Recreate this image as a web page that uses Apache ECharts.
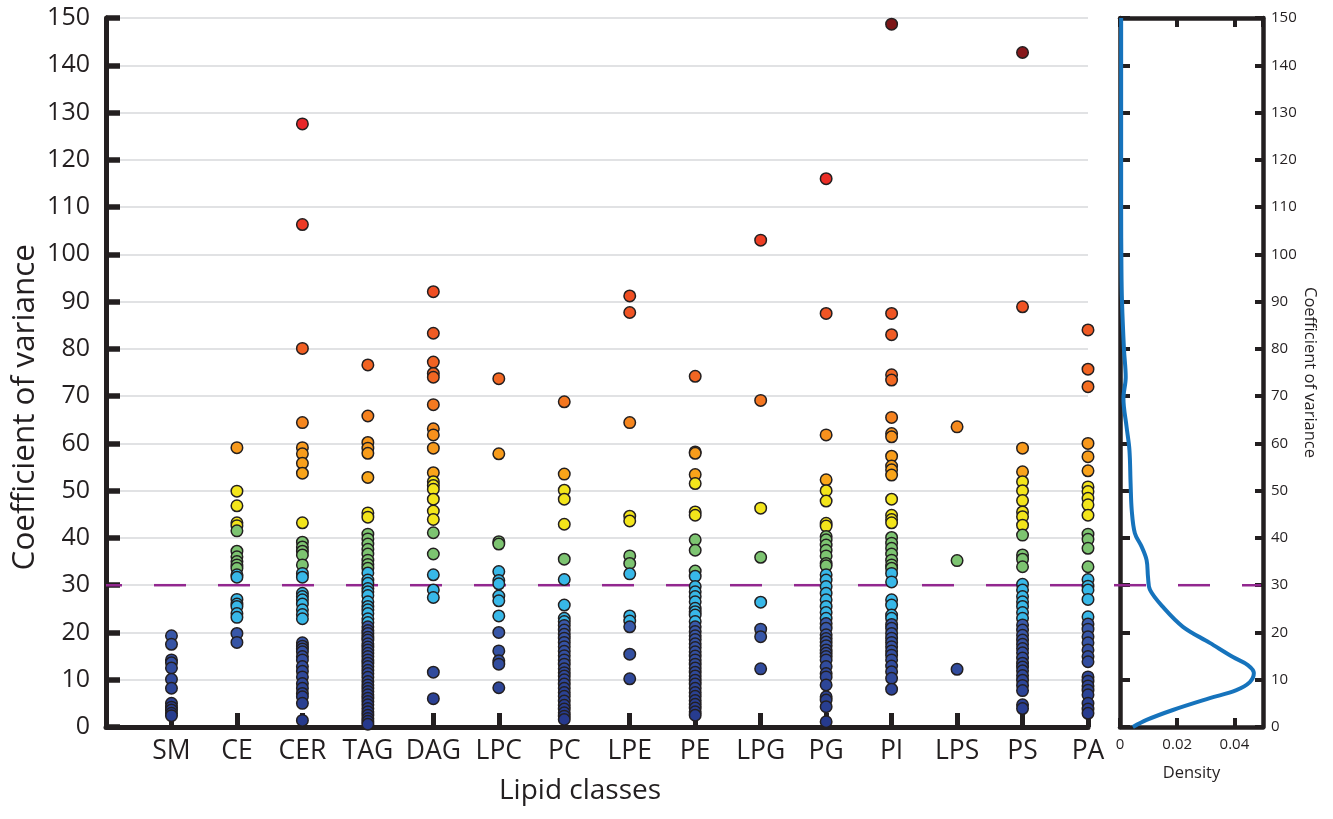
<!DOCTYPE html>
<html>
<head>
<meta charset="utf-8">
<script src="https://cdn.jsdelivr.net/npm/echarts@6/dist/echarts.min.js"></script>
<style>
  html, body { margin: 0; padding: 0; background: #fff; }
  #chart { width: 1333px; height: 819px; }
</style>
</head>
<body>
<div id="chart"></div>
<script>
// Lipid classes along the x axis
const categories = ['SM', 'CE', 'CER', 'TAG', 'DAG', 'LPC', 'PC', 'LPE', 'PE', 'LPG', 'PG', 'PI', 'LPS', 'PS', 'PA'];

// Coefficient of variance (%) of each lipid species, per class
const SM  = [19.3, 17.5, 14.2, 13.6, 12.5, 10.1, 8.2, 5.0, 4.2, 3.6, 2.9, 2.4];
const CE  = [59.1, 49.9, 46.8, 43.2, 42.6, 41.5, 37.2, 36.0, 35.0, 34.3, 33.6, 32.2, 31.7, 27.0, 26.0, 25.5, 24.0, 23.2, 19.8, 17.9];
const CER = [127.6, 106.3, 80.1, 64.4, 59.1, 57.8, 55.8, 53.7, 43.2, 39.1, 38.1, 37.2, 36.4, 34.3, 32.5, 31.7, 28.3, 27.6, 26.9, 26.0, 24.8, 23.8, 22.9,
             17.8, 17.1, 16.5, 15.9, 14.9, 14.2, 12.8, 11.8, 10.6, 9.2, 8.2, 7.1, 6.4, 5.0, 1.4];
const TAG = [76.6, 65.8, 60.2, 59.0, 57.9, 52.8, 45.3, 44.4, 40.8, 39.8, 38.7, 37.6, 36.6, 35.3, 34.4, 33.6, 32.6, 31.1, 30.4, 29.3, 28.6, 27.8, 26.5,
             25.5, 24.8, 24.0, 22.9, 22.1, 21.2, 20.4, 19.8, 19.0, 18.4, 17.6, 16.9, 16.3, 15.6, 14.9, 14.2, 13.5, 12.8, 12.0, 11.3, 10.5, 9.6, 8.9,
             8.2, 7.5, 6.8, 6.1, 5.4, 4.7, 3.9, 3.2, 2.5, 1.8, 1.2, 0.6];
const DAG = [92.1, 83.3, 77.2, 74.8, 74.0, 68.2, 63.1, 61.8, 59.0, 53.8, 51.9, 51.1, 50.3, 48.2, 45.7, 43.9, 41.1, 36.6, 32.2, 29.0, 27.4, 11.6, 6.0];
const LPC = [73.7, 57.8, 39.2, 38.7, 32.9, 31.0, 30.3, 27.7, 26.7, 23.5, 20.0, 16.1, 14.0, 13.3, 8.3];
const PC  = [68.8, 53.5, 50.1, 48.2, 42.9, 35.5, 31.2, 25.8, 23.0, 22.3, 21.5, 20.5, 19.6, 18.8, 17.9, 17.0, 16.0, 15.1, 14.2, 13.3, 12.3, 11.5,
             10.8, 10.0, 9.1, 8.2, 7.3, 6.5, 5.5, 4.6, 3.8, 3.0, 2.3, 1.6];
const LPE = [91.2, 87.7, 64.4, 44.6, 43.6, 36.2, 34.6, 32.4, 23.5, 22.4, 21.2, 15.4, 10.2];
const PE  = [74.2, 58.2, 57.9, 53.4, 51.5, 45.5, 44.8, 39.6, 37.4, 33.0, 31.9, 29.7, 28.6, 27.6, 26.5, 25.1, 24.4, 23.7, 22.3, 21.2, 20.2, 19.3,
             18.5, 17.6, 16.8, 15.9, 15.0, 14.2, 13.3, 12.5, 11.6, 10.8, 9.9, 9.1, 8.2, 7.3, 6.5, 5.6, 4.8, 4.0, 3.2, 2.5];
const LPG = [103.0, 69.1, 46.3, 35.9, 26.4, 20.7, 19.1, 12.3];
const PG  = [116.0, 87.5, 61.8, 52.3, 50.0, 47.8, 43.1, 42.5, 40.3, 39.6, 38.5, 37.4, 36.2, 34.6, 34.1, 32.2, 31.1, 29.7, 28.3, 26.9, 25.5, 24.2,
             23.0, 21.9, 20.9, 19.5, 18.7, 18.0, 17.2, 16.3, 15.6, 14.9, 14.2, 12.8, 11.3, 10.6, 8.9, 6.4, 5.7, 4.3, 1.1];
const PI  = [148.7, 87.5, 83.0, 74.5, 73.4, 65.5, 62.1, 61.4, 57.3, 55.2, 54.4, 53.3, 48.2, 44.8, 43.9, 43.2, 40.1, 38.9, 37.8, 36.6, 35.3, 34.3,
             33.6, 32.5, 30.7, 26.9, 25.8, 23.7, 23.0, 21.7, 20.9, 19.8, 18.8, 17.9, 17.0, 16.1, 15.2, 14.2, 12.9, 11.7, 10.3, 8.0];
const LPS = [63.5, 35.2, 12.2];
const PS  = [142.7, 88.9, 59.0, 54.0, 51.9, 50.0, 47.9, 45.5, 44.5, 42.7, 40.6, 36.4, 35.5, 33.9, 30.2, 29.0, 27.6, 26.5, 25.5, 24.2, 23.0, 21.6,
             20.5, 19.4, 18.4, 17.5, 16.6, 15.7, 14.6, 13.5, 12.7, 11.9, 10.9, 9.9, 8.8, 7.7, 4.7, 3.9];
const PA  = [84.0, 75.7, 72.0, 60.0, 57.2, 54.2, 50.8, 49.8, 48.4, 47.0, 44.8, 40.8, 39.7, 37.8, 33.9, 31.2, 29.8, 29.0, 27.0, 23.3, 21.8, 20.7,
             19.1, 17.8, 16.3, 14.9, 13.8, 10.6, 9.7, 8.7, 7.8, 6.8, 5.0, 3.8, 2.9];

const classValues = [SM, CE, CER, TAG, DAG, LPC, PC, LPE, PE, LPG, PG, PI, LPS, PS, PA];

// Kernel density of all CV values (density, CV)
const densityCv  = [0, 1.5, 3.6, 6.1, 7.8, 9.5, 11.4, 13.1, 14.8, 17.8, 21.2, 25.4, 29.0, 31.7, 35.3, 38.1, 41.0, 45.9, 51.6, 58.6, 63.5, 69.5, 74.0, 79.8, 90.0, 97.0, 110, 130, 150];
const densityVal = [0.0045, 0.0093, 0.0185, 0.0314, 0.0407, 0.0454, 0.0468, 0.0447, 0.0395, 0.0314, 0.022, 0.015, 0.0105, 0.0098, 0.0093, 0.0076,
                    0.0052, 0.0041, 0.0037, 0.0033, 0.0023, 0.0012, 0.0020, 0.0014, 0.0007, 0.0005, 0.0004, 0.0004, 0.0004];

// Axis ticks
const cvTicks = { min: 0, max: 150, interval: 10 };
const densityTicks = { min: 0, max: 0.05, interval: 0.02 };
const cvThreshold = 30;

// Colour scale by CV value
function hexToRgb(h) { return [parseInt(h.slice(1, 3), 16), parseInt(h.slice(3, 5), 16), parseInt(h.slice(5, 7), 16)]; }
function mix(a, b, t) {
  const ca = hexToRgb(a), cb = hexToRgb(b);
  return 'rgb(' + ca.map((c, i) => Math.round(c + (cb[i] - c) * t)).join(',') + ')';
}
function ramp(stops, v) {
  if (v <= stops[0][0]) return stops[0][1];
  for (let i = 1; i < stops.length; i++) {
    if (v <= stops[i][0]) {
      const t = (v - stops[i - 1][0]) / (stops[i][0] - stops[i - 1][0]);
      return mix(stops[i - 1][1], stops[i][1], t);
    }
  }
  return stops[stops.length - 1][1];
}
const warmStops = [[52, '#F9A71A'], [60, '#F8981C'], [66, '#F5801F'], [74, '#F26622'], [84, '#F05A24'], [92, '#EF4E23'],
                   [103, '#EE3E24'], [116, '#EC2E26'], [128, '#E8262A'], [140, '#8C1A1D'], [150, '#7A1416']];
function cvColor(v) {
  if (v < 22) return ramp([[0, '#25388B'], [22, '#3A5AAB']], v);
  if (v < 33) return '#38B8E8';
  if (v < 42) return '#7DC471';
  if (v < 52) return '#F3E51B';
  return ramp(warmStops, v);
}

const scatterData = [];
classValues.forEach((vals, i) => vals.forEach(v => scatterData.push([i + 1, v])));
const densityData = densityCv.map((cv, i) => [densityVal[i], cv]);

const ink = '#231F20';
const font = 'Open Sans';

const chart = echarts.init(document.getElementById('chart'), null, { renderer: 'canvas' });
chart.setOption({
  animation: false,
  backgroundColor: '#ffffff',
  textStyle: { fontFamily: font, color: ink },
  grid: [
    { left: 106, right: 245, top: 18, bottom: 92, outerBoundsMode: 'none' },
    { left: 1120, right: 70, top: 18, bottom: 92, outerBoundsMode: 'none' },
    { left: 106, right: 72, top: 18, bottom: 92, outerBoundsMode: 'none' }
  ],
  xAxis: [
    {
      gridIndex: 0, type: 'value', min: 0, max: categories.length, interval: 1,
      axisLine: { show: true, onZero: false, lineStyle: { color: ink, width: 5 } },
      axisTick: { show: true, inside: true, length: 14, lineStyle: { color: ink, width: 5 } },
      axisLabel: { fontSize: 26.5, color: ink, fontFamily: font, margin: 11,
                   formatter: v => categories[v - 1] || '' },
      splitLine: { show: false }
    },
    {
      gridIndex: 1, type: 'value', position: 'bottom', min: densityTicks.min, max: densityTicks.max, interval: densityTicks.interval,
      axisLine: { show: true, onZero: false, lineStyle: { color: ink, width: 4.5 } },
      axisTick: { show: true, inside: true, length: 9, lineStyle: { color: ink, width: 4 } },
      axisLabel: { fontSize: 15, color: ink, fontFamily: font, margin: 10, showMaxLabel: false,
                   formatter: v => (v > 0.045 ? '' : String(+v.toFixed(2))) },
      splitLine: { show: false },
      name: 'Density', nameLocation: 'middle', nameGap: 38,
      nameTextStyle: { fontSize: 16.5, color: ink, fontFamily: font }
    },
    {
      gridIndex: 1, type: 'value', position: 'top', min: densityTicks.min, max: densityTicks.max, interval: densityTicks.interval,
      axisLine: { show: true, onZero: false, lineStyle: { color: ink, width: 4.5 } },
      axisTick: { show: true, inside: true, length: 9, lineStyle: { color: ink, width: 4 } },
      axisLabel: { show: false },
      splitLine: { show: false }
    },
    { gridIndex: 2, type: 'value', min: 0, max: 1, show: false }
  ],
  yAxis: [
    {
      gridIndex: 0, type: 'value', min: cvTicks.min, max: cvTicks.max, interval: cvTicks.interval,
      axisLine: { show: true, onZero: false, lineStyle: { color: ink, width: 5 } },
      axisTick: { show: true, inside: true, length: 14, lineStyle: { color: ink, width: 5.5 } },
      axisLabel: { fontSize: 25, color: ink, fontFamily: font, margin: 16 },
      splitLine: { show: true, lineStyle: { color: '#E1E2E4', width: 2 } }
    },
    {
      gridIndex: 1, type: 'value', position: 'left', min: cvTicks.min, max: cvTicks.max, interval: cvTicks.interval,
      axisLine: { show: true, onZero: false, lineStyle: { color: ink, width: 4.5 } },
      axisTick: { show: true, inside: true, length: 10, lineStyle: { color: ink, width: 4 } },
      axisLabel: { show: false },
      splitLine: { show: false }
    },
    {
      gridIndex: 1, type: 'value', position: 'right', min: cvTicks.min, max: cvTicks.max, interval: cvTicks.interval,
      axisLine: { show: true, onZero: false, lineStyle: { color: ink, width: 4.5 } },
      axisTick: { show: true, inside: true, length: 8, lineStyle: { color: ink, width: 4 } },
      axisLabel: { fontSize: 15, color: ink, fontFamily: font, margin: 8 },
      splitLine: { show: false },
      name: 'Coefficient of variance', nameLocation: 'middle', nameRotate: -90, nameGap: 38,
      nameTextStyle: { fontSize: 16.5, color: ink, fontFamily: font }
    },
    { gridIndex: 2, type: 'value', min: cvTicks.min, max: cvTicks.max, show: false }
  ],
  graphic: [
    { type: 'text', left: 9, top: 244, rotation: Math.PI / 2,
      style: { text: 'Coefficient of variance', fontSize: 31.5, fontFamily: font, fill: ink } },
    { type: 'text', left: 499, top: 777,
      style: { text: 'Lipid classes', fontSize: 28, fontFamily: font, fill: ink } }
  ],
  series: [
    {
      type: 'line', xAxisIndex: 3, yAxisIndex: 3, z: 1, silent: true,
      data: [[0, cvThreshold], [1, cvThreshold]], symbol: 'none',
      lineStyle: { color: '#92278F', width: 2.5, type: [32, 32], dashOffset: 16 }
    },
    {
      type: 'line', xAxisIndex: 1, yAxisIndex: 1, z: 3, data: densityData, symbol: 'none',
      smooth: 0.35, lineStyle: { color: '#1673BC', width: 4 }
    },
    {
      type: 'scatter', xAxisIndex: 0, yAxisIndex: 0, z: 4, data: scatterData,
      symbol: 'circle', symbolSize: 11.5,
      itemStyle: { color: p => cvColor(p.value[1]), borderColor: ink, borderWidth: 1.5, opacity: 1 }
    }
  ]
});
</script>
</body>
</html>
